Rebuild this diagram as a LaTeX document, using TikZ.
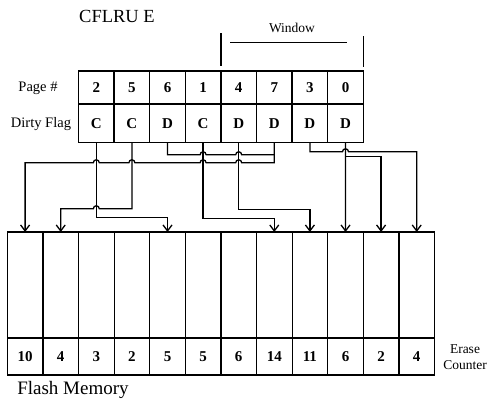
\documentclass[tikz,border=0pt]{standalone}
\usepackage{fontspec}
\setmainfont{Liberation Serif}
\usetikzlibrary{arrows.meta,calc,positioning}

% hop of a horizontal line over a vertical one
\newcommand{\hopL}[1]{-- ($(#1)+(3,0)$) arc[start angle=0,end angle=180,radius=3pt]}
\newcommand{\hopR}[1]{-- ($(#1)+(-3,0)$) arc[start angle=180,end angle=0,radius=3pt]}

\tikzset{
    tabcell/.style={draw,line width=1.5pt,minimum width=35.6pt,inner sep=0pt,outer sep=0pt,
        font=\fontsize{15}{15}\selectfont\bfseries},
    blockcell/.style={draw,line width=1.2pt,minimum width=35.6pt,minimum height=106pt,
        inner sep=0pt,outer sep=0pt},
    countcell/.style={blockcell,minimum height=37pt,font=\fontsize{15}{15}\selectfont\bfseries},
    conn/.style={line width=1.3pt},
    tip/.style={-{Straight Barb[length=6pt,width=9pt,line width=1.3pt]}},
    lbl/.style={font=\fontsize{14.5}{15}\selectfont,inner sep=0pt}
}

\begin{document}
\begin{tikzpicture}[x=1pt,y=-1pt]
    \useasboundingbox (0,0) rectangle (491,404);
    \node[font=\fontsize{18.5}{19}\selectfont] (title) at (117,16) {CFLRU E};
    %% page table
    \foreach \pg/\fl [count=\i] in {2/C,5/C,6/D,1/C,4/D,7/D,3/D,0/D} {
        \node[tabcell,minimum height=33pt] (p\i) at ({78.5+35.6*(\i-0.5)},87.5) {\pg};
        \node[tabcell,minimum height=38.5pt] (d\i) at ({78.5+35.6*(\i-0.5)},123.5) {\fl};
    }
    \node[lbl] (pagelbl) at (38,88) {Page \#};
    \node[lbl] (flaglbl) at (41,124) {Dirty Flag};
    %% window
    \node[font=\fontsize{13.5}{14}\selectfont] (win) at (292,28) {Window};
    \draw[line width=1.2pt] (p5.north west) ++(0,-5) -- ++(0,-33);
    \draw[line width=1.2pt] (p8.north east) ++(0,-4) -- ++(0,-31);
    \draw[line width=1pt] (230,43) -- (347,43);
    %% flash memory
    \foreach \ec [count=\i] in {10,4,3,2,5,5,6,14,11,6,2,4} {
        \node[blockcell] (f\i) at ({7.3+35.6*(\i-0.5)},285) {};
        \node[countcell] (e\i) at ({7.3+35.6*(\i-0.5)},356.5) {\ec};
    }
    \node[font=\fontsize{13.5}{16}\selectfont,align=center] (eclbl) at (465,357) {Erase\\Counter};
    \node[font=\fontsize{19}{19}\selectfont] (flashlbl) at (73,390) {Flash Memory};
    %% mapping
    \draw[conn,tip] (d1.south) -- ++(0,75) -| (f5.north);
    \draw[conn,tip] (d2.south) -- ++(0,66) coordinate (l2)
        \hopL{l2 -| d1.south} -| (f2.north);
    \draw[conn] (d3.south) -- ++(0,12) coordinate (l3)
        \hopR{l3 -| d4.south} \hopR{l3 -| d5.south} -- (l3 -| d6.south);
    \draw[conn,tip] (d6.south) -- ++(0,20) coordinate (l4)
        \hopL{l4 -| d5.south} \hopL{l4 -| d4.south}
        \hopL{l4 -| d2.south} \hopL{l4 -| d1.south} -| (f1.north);
    \draw[conn,tip] (d4.south) -- ++(0,76) -| (f8.north);
    \draw[conn,tip] (d5.south) -- ++(0,67) -| (f9.north);
    \draw[conn,tip] (d7.south) -- ++(0,9) coordinate (l7)
        \hopR{l7 -| d8.south} -| (f12.north);
    \draw[conn,tip] (d8.south) -- (f10.north);
    \draw[conn,tip] (d8.south) ++(0,14) -| (f11.north);
\end{tikzpicture}
\end{document}
